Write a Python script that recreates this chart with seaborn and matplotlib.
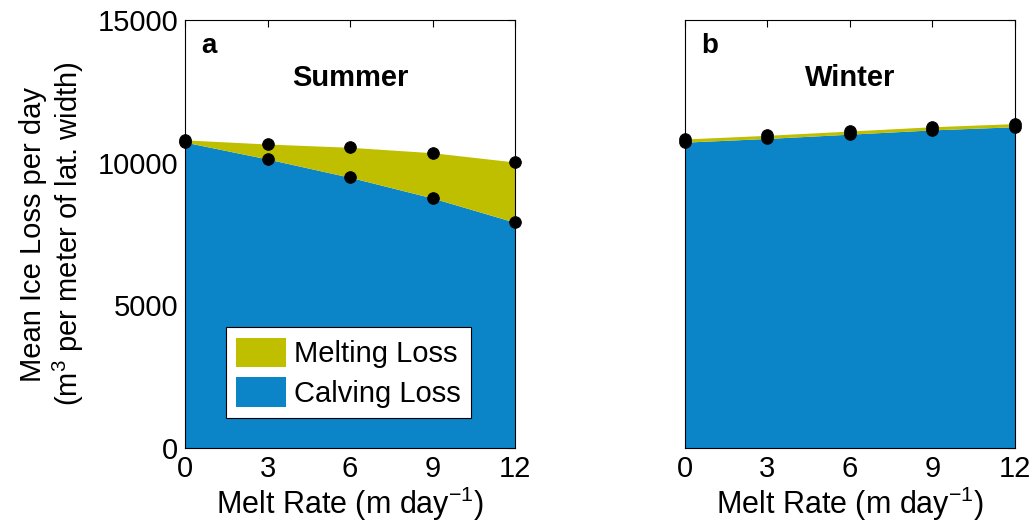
import seaborn as sns
import matplotlib.pyplot as plt
import pandas as pd
from matplotlib.patches import Patch

sns.set_style("white")
plt.rcParams['font.family'] = ['Liberation Sans', 'DejaVu Sans']
plt.rcParams['mathtext.fontset'] = 'custom'
plt.rcParams['mathtext.rm'] = 'Liberation Sans'
plt.rcParams['text.color'] = 'black'
plt.rcParams['axes.labelcolor'] = 'black'
plt.rcParams['xtick.color'] = 'black'
plt.rcParams['ytick.color'] = 'black'

melt_rate = [0, 3, 6, 9, 12]
summer_total = [10800, 10654, 10539, 10349, 10023]
summer_calving = [10720, 10129, 9487, 8762, 7910]
winter_total = [10830, 10960, 11110, 11260, 11370]
winter_calving = [10720, 10850, 11000, 11150, 11260]

blue = '#0b84c8'
olive = '#bfbf00'
fs = 21

panels = [
    ('a', 'Summer', summer_total, summer_calving),
    ('b', 'Winter', winter_total, winter_calving),
]

fig = plt.figure(figsize=(10.36, 5.27), dpi=100)
lefts = [0.1786, 0.6612]
axes = [fig.add_axes([l, 0.1499, 0.3185, 0.8121]) for l in lefts]

for ax, (tag, season, total, calving) in zip(axes, panels):
    df = pd.DataFrame({'rate': melt_rate, 'total': total, 'calving': calving})
    ax.fill_between(df['rate'], 0, df['calving'], color=blue, lw=0)
    ax.fill_between(df['rate'], df['calving'], df['total'], color=olive, lw=0)
    pts = pd.concat([df[['rate', 'total']].rename(columns={'total': 'v'}),
                     df[['rate', 'calving']].rename(columns={'calving': 'v'})])
    sns.scatterplot(data=pts, x='rate', y='v', ax=ax, color='black', s=70,
                    edgecolor='black', zorder=5, clip_on=False)
    ax.set_xlim(0, 12)
    ax.set_ylim(0, 15000)
    ax.set_xticks(melt_rate)
    ax.set_yticks([0, 5000, 10000, 15000])
    ax.tick_params(direction='in', length=5, top=True, right=True,
                   labelsize=fs, pad=5, width=0.8)
    for sp in ax.spines.values():
        sp.set_color('black')
        sp.set_linewidth(0.8)
    ax.set_xlabel('Melt Rate (m day$^{-1}$)', fontsize=fs + 1, labelpad=1)
    ax.set_ylabel('')
    ax.text(0.05, 0.94, tag, transform=ax.transAxes, fontsize=fs - 1,
            fontweight='bold', va='center')
    ax.text(0.5, 0.865, season, transform=ax.transAxes, fontsize=fs,
            fontweight='bold', ha='center', va='center')

axes[0].set_ylabel('Mean Ice Loss per day\n(m$^3$ per meter of lat. width)',
                   fontsize=fs, labelpad=8, linespacing=1.15)
axes[1].set_yticklabels([])

handles = [Patch(facecolor=olive, edgecolor='none', label='Melting Loss'),
           Patch(facecolor=blue, edgecolor='none', label='Calving Loss')]
leg = axes[0].legend(handles=handles, loc='lower left', bbox_to_anchor=(0.124, 0.07),
                     fontsize=fs, frameon=True, fancybox=False, framealpha=1,
                     handlelength=1.7, handleheight=1.2, borderpad=0.35,
                     labelspacing=0.3, handletextpad=0.3, borderaxespad=0)
leg.get_frame().set_edgecolor('black')
leg.get_frame().set_linewidth(0.8)

fig.savefig('out.png', dpi=100)
